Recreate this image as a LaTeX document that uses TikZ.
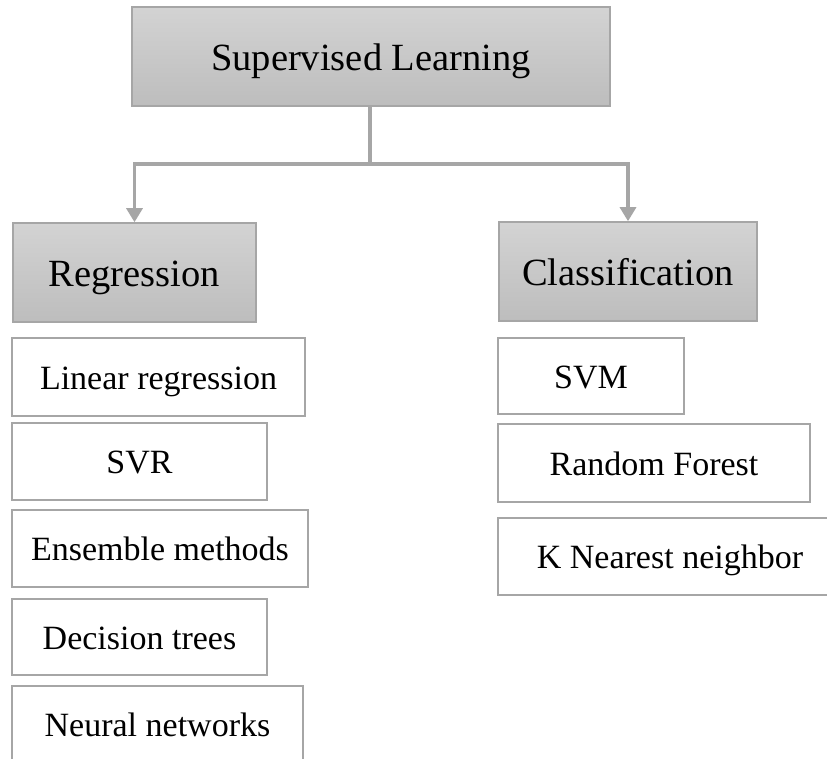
\documentclass[tikz,border=0pt]{standalone}
\usepackage{fontspec}
\setmainfont{Liberation Serif}
\usetikzlibrary{arrows.meta}
\definecolor{edgegray}{HTML}{A6A6A6}
\definecolor{fillTop}{HTML}{D3D3D3}
\definecolor{fillBot}{HTML}{BDBDBD}
\tikzset{
  base/.style={draw=edgegray, line width=1.6pt, inner sep=0pt, align=center},
  head/.style={base, top color=fillTop, bottom color=fillBot,
    font=\fontsize{38.5}{46}\selectfont, text height=34.6pt, text depth=6.9pt},
  item/.style={base, fill=white, font=\fontsize{34}{40}\selectfont,
    text height=30.6pt, text depth=6.1pt},
  conn/.style={draw=edgegray, line width=3.2pt},
  tip/.style={-{Triangle[length=14pt,width=16pt]}},
}
\begin{document}
\begin{tikzpicture}[x=1pt,y=-1pt]
\useasboundingbox (0,0) rectangle (827,759);
\clip (0,0) rectangle (827,759);
\fill[white] (0,0) rectangle (827,759);
% heads
\node[head, minimum width=478pt, minimum height=99pt] (sl) at (371,56.5) {Supervised Learning};
\node[head, minimum width=243pt, minimum height=99pt] (reg) at (134.5,272.5) {Regression};
\node[head, minimum width=258pt, minimum height=99pt] (cls) at (628,271.5) {Classification};
% regression items
\node[item, minimum width=293pt, minimum height=78pt] (lr) at (158.5,377) {Linear regression};
\node[item, minimum width=255pt, minimum height=77pt] (svr) at (139.5,461.5) {SVR};
\node[item, minimum width=296pt, minimum height=77pt] (ens) at (160,548.5) {Ensemble methods};
\node[item, minimum width=255pt, minimum height=76pt] (dt) at (139.5,637) {Decision trees};
\node[item, minimum width=291pt, minimum height=77pt] (nn) at (157.5,724.5) {Neural networks};
% classification items
\node[item, minimum width=186pt, minimum height=76pt] (svm) at (591,376) {SVM};
\node[item, minimum width=312pt, minimum height=78pt] (rf) at (654,463) {Random Forest};
\node[item, minimum width=344pt, minimum height=77pt] (knn) at (670,556.5) {K Nearest neighbor};
% connectors
\coordinate (j) at (370,164);
\draw[conn] (sl.south -| j) -- (j);
\draw[conn, tip] (j) -| (reg.north);
\draw[conn, tip] (j) -| (cls.north);
\end{tikzpicture}
\end{document}
